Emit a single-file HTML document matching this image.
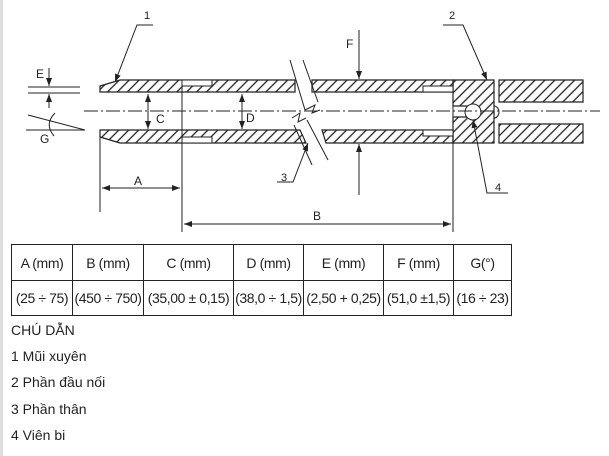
<!DOCTYPE html>
<html><head><meta charset="utf-8"><style>
html,body{margin:0;padding:0;background:#fff;width:609px;height:456px;overflow:hidden;font-family:"Liberation Sans",Arial,sans-serif;color:#222}
.l{position:absolute;left:11px;font-size:14px}
table{table-layout:fixed}
td{white-space:nowrap;border:1px solid #222;text-align:center;padding:0;letter-spacing:-0.4px;overflow:hidden}
</style></head><body>
<div style="position:absolute;left:0;top:0;width:3px;height:456px;background:#ddd"></div>
<svg width="609" height="240" style="position:absolute;left:0;top:0" font-family="Liberation Sans, Arial, sans-serif" font-size="11">
<defs>
<pattern id="h" width="7" height="7" patternUnits="userSpaceOnUse" patternTransform="rotate(45)">
<line x1="1" y1="0" x2="1" y2="7" stroke="#222" stroke-width="1.3"/></pattern>
<marker id="a" markerWidth="8" markerHeight="6" refX="8" refY="3" orient="auto"><path d="M0,0L8,3L0,6z" fill="#222"/></marker>
</defs>
<g stroke="#222" stroke-width="1.2" fill="url(#h)">
<path d="M100,86 L120,80 L295,80 L295,92 L100,92 Z"/>
<path d="M100,130 L300,130 L306,143 L120,143 L100,137 Z"/>
<path d="M312,80 L453,80 L453,92 L312,92 Z"/>
<path d="M322,130 L453,130 L453,143 L326,143 Z"/>
<path d="M453,80 L494,80 L494,143 L453,143 L453,117 L468,117 L468,106 L453,106 Z"/>
<path d="M499,80 L583,80 L583,102 L499,102 Z"/>
<path d="M499,124 L583,124 L583,143 L499,143 Z"/>
</g>
<g stroke="#222" stroke-width="1" fill="none">
<rect x="182" y="80" width="30" height="6" fill="#fff"/>
<rect x="182" y="137" width="30" height="6" fill="#fff"/>
<rect x="423" y="86" width="30" height="6" fill="#fff"/>
<rect x="423" y="130" width="30" height="6" fill="#fff"/>
<circle cx="473" cy="112" r="8" fill="#fff"/>
<path d="M494,106 A5,6 0 0 1 494,118"/>
<line x1="182" y1="80" x2="182" y2="232"/>
<line x1="453" y1="92" x2="453" y2="232"/>
<line x1="100" y1="137" x2="100" y2="212"/>
<line x1="290" y1="60" x2="305" y2="110"/>
<line x1="303" y1="60" x2="318" y2="102"/>
<path d="M305,110 L315,105 L312,113 L320,110"/>
<path d="M292,118 L300,113 L298,122 L306,118"/>
<line x1="294" y1="125" x2="312" y2="165"/>
<line x1="307" y1="120" x2="328" y2="160"/>
<line x1="84" y1="111" x2="600" y2="111" stroke-dasharray="14,3,2,3"/>
<line x1="102" y1="188" x2="180" y2="188" marker-end="url(#a)"/>
<line x1="180" y1="188" x2="102" y2="188" marker-end="url(#a)"/>
<line x1="184" y1="224" x2="451" y2="224" marker-end="url(#a)"/>
<line x1="451" y1="224" x2="184" y2="224" marker-end="url(#a)"/>
<line x1="148" y1="94" x2="148" y2="129" marker-end="url(#a)"/>
<line x1="148" y1="129" x2="148" y2="94" marker-end="url(#a)"/>
<line x1="242" y1="94" x2="242" y2="129" marker-end="url(#a)"/>
<line x1="242" y1="129" x2="242" y2="94" marker-end="url(#a)"/>
<line x1="359" y1="30" x2="359" y2="79" marker-end="url(#a)"/>
<line x1="359" y1="195" x2="359" y2="144" marker-end="url(#a)"/>
<line x1="28" y1="87" x2="80" y2="87"/>
<line x1="28" y1="93" x2="80" y2="93"/>
<line x1="49" y1="68" x2="49" y2="86" marker-end="url(#a)"/>
<line x1="49" y1="108" x2="49" y2="94" marker-end="url(#a)"/>
<line x1="28" y1="115" x2="85" y2="130"/>
<line x1="26" y1="130" x2="85" y2="130"/>
<path d="M55,113 Q44,124 54,136"/>
<path d="M153,25 L137,25 L115,82" marker-end="url(#a)"/>
<path d="M443,25 L463,25 L487,80" marker-end="url(#a)"/>
<path d="M277,182 L293,182 L308,143" marker-end="url(#a)"/>
<path d="M508,193 L487,193 L473,120" marker-end="url(#a)"/>
</g>
<g fill="#222">
<text x="144" y="19">1</text><text x="449" y="19">2</text>
<text x="281" y="181">3</text><text x="495" y="191">4</text>
<text x="134" y="185" font-size="12">A</text><text x="313" y="220" font-size="12">B</text>
<text x="156" y="123" font-size="12">C</text><text x="246" y="122" font-size="12">D</text>
<text x="36" y="78" font-size="12">E</text><text x="346" y="48" font-size="12">F</text>
<text x="40" y="143" font-size="12">G</text>
</g>
</svg>
<table style="position:absolute;left:11px;top:244px;width:500px;border-collapse:collapse;font-size:14px;" cellpadding="0">
<colgroup><col style="width:61px"><col style="width:71px"><col style="width:90px"><col style="width:70px"><col style="width:80px"><col style="width:70px"><col style="width:58px"></colgroup>
<tr style="height:36px"><td>A (mm)</td><td>B (mm)</td><td>C (mm)</td><td>D (mm)</td><td>E (mm)</td><td>F (mm)</td><td>G(°)</td></tr>
<tr style="height:35px"><td>(25 ÷ 75)</td><td>(450 ÷ 750)</td><td>(35,00 ± 0,15)</td><td>(38,0 ÷ 1,5)</td><td>(2,50 + 0,25)</td><td>(51,0 ±1,5)</td><td>(16 ÷ 23)</td></tr>
</table>
<div class="l" style="top:322px">CHÚ DẪN</div>
<div class="l" style="top:348px">1 Mũi xuyên</div>
<div class="l" style="top:374px">2 Phần đầu nối</div>
<div class="l" style="top:401px">3 Phần thân</div>
<div class="l" style="top:427px">4 Viên bi</div>
</body></html>
